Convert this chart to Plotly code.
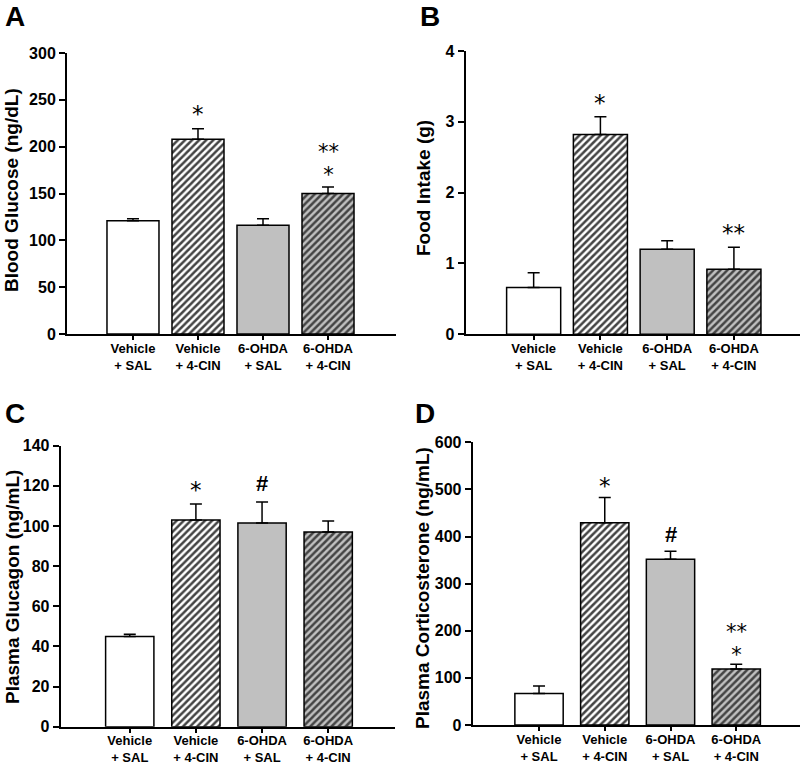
import plotly.graph_objects as go

W, H = 803, 767

categories = ["Vehicle<br>+ SAL", "Vehicle<br>+ 4-CIN", "6-OHDA<br>+ SAL", "6-OHDA<br>+ 4-CIN"]

glucose_mean = [121, 208, 116, 150]
glucose_err = [2, 11, 7, 7]

food_mean = [0.66, 2.82, 1.20, 0.92]
food_err = [0.21, 0.25, 0.12, 0.31]

glucagon_mean = [45, 103, 101.5, 97]
glucagon_err = [1, 8, 10.5, 5.5]

cort_mean = [67, 429, 352, 119]
cort_err = [16, 54, 17, 10]

titles = ["Blood Glucose (ng/dL)", "Food Intake (g)", "Plasma Glucagon (ng/mL)", "Plasma Corticosterone (ng/mL)"]
letters = ["A", "B", "C", "D"]

# significance marks: (category index, y value, lines of text)
marks_A = [(1, 235, ["*"]), (3, 182, ["**", "*"])]
marks_B = [(1, 3.27, ["*"]), (3, 1.43, ["**"])]
marks_C = [(1, 117.8, ["*"]), (2, 121.3, ["#"])]
marks_D = [(1, 508, ["*"]), (2, 405, ["#"]), (3, 174, ["**", "*"])]

fill_colors = ["white", "white", "#c0c0c0", "#c0c0c0"]
patterns = ["", "/", "", "/"]

panels = [
    dict(px=(67, 396), py=(53, 334), yr=[0, 300], dt=50, xr=[-1.015, 4.046], bw=0.8,
         mean=glucose_mean, err=glucose_err, marks=marks_A, title_xy=(11, 190), letter_xy=(15, 17)),
    dict(px=(465.7, 800), py=(51, 334.3), yr=[0, 4], dt=1, xr=[-1.018, 3.99], bw=0.81,
         mean=food_mean, err=food_err, marks=marks_B, title_xy=(424, 188), letter_xy=(430, 17)),
    dict(px=(60.7, 395), py=(445.7, 726.7), yr=[0, 140], dt=20, xr=[-1.044, 4.01], bw=0.73,
         mean=glucagon_mean, err=glucagon_err, marks=marks_C, title_xy=(12, 587), letter_xy=(15, 414)),
    dict(px=(472.7, 800), py=(442.3, 725), yr=[0, 600], dt=100, xr=[-1.009, 3.97], bw=0.735,
         mean=cort_mean, err=cort_err, marks=marks_D, title_xy=(422, 588), letter_xy=(425, 413)),
]

FONT = "Arial, 'Liberation Sans', sans-serif"
STAR_FONT = "'DejaVu Sans', sans-serif"


def fx(px):
    return px / W


def fy(py):
    return 1 - py / H


fig = go.Figure()
annotations = []
for i, p in enumerate(panels):
    sfx = "" if i == 0 else str(i + 1)
    xa, ya = "x" + sfx, "y" + sfx
    fig.add_trace(go.Bar(
        x=categories, y=p["mean"], width=p["bw"],
        xaxis=xa, yaxis=ya,
        marker=dict(color=fill_colors, line=dict(color="black", width=1.5),
                    pattern=dict(shape=patterns, fgcolor="black", fgopacity=1, size=5, solidity=0.5)),
        error_y=dict(type="data", symmetric=False, array=p["err"], arrayminus=[0] * 4,
                     color="black", thickness=1.5, width=6),
        showlegend=False, hoverinfo="skip",
    ))
    xd = [fx(p["px"][0]), fx(p["px"][1])]
    yd = [fy(p["py"][1]), fy(p["py"][0])]
    fig.layout["xaxis" + sfx] = dict(
        domain=xd, anchor=ya, type="category", range=p["xr"],
        showline=True, linecolor="black", linewidth=2,
        ticks="outside", ticklen=4, tickwidth=1.5, tickcolor="black",
        ticklabelstandoff=-3,
        tickfont=dict(family=FONT, size=13, color="black", weight="bold"),
        showgrid=False, zeroline=False, fixedrange=True, automargin=False,
    )
    fig.layout["yaxis" + sfx] = dict(
        domain=yd, anchor=xa, range=p["yr"], dtick=p["dt"], tick0=0,
        showline=True, linecolor="black", linewidth=2,
        ticks="outside", ticklen=6, tickwidth=1.5, tickcolor="black",
        tickfont=dict(family=FONT, size=16, color="black", weight="bold"),
        showgrid=False, zeroline=False, fixedrange=True, automargin=False,
    )
    tx, ty = p["title_xy"]
    annotations.append(dict(text=titles[i], xref="paper", yref="paper", x=fx(tx), y=fy(ty),
                            textangle=-90, showarrow=False, xanchor="center", yanchor="middle",
                            font=dict(family=FONT, size=19, color="black", weight="bold")))
    lx, ly = p["letter_xy"]
    annotations.append(dict(text=letters[i], xref="paper", yref="paper", x=fx(lx), y=fy(ly),
                            showarrow=False, xanchor="center", yanchor="middle",
                            font=dict(family=FONT, size=28, color="black", weight="bold")))
    for (ci, yv, lines) in p["marks"]:
        if lines == ["#"]:
            txt = "#"
            f = dict(family=FONT, size=22, color="black", weight="bold")
        elif len(lines) == 1:
            txt = lines[0]
            f = dict(family=STAR_FONT, size=23, color="black")
        else:
            txt = "<br>".join('<span style="font-size:21px">%s</span>' % s for s in lines)
            f = dict(family=STAR_FONT, size=17.5, color="black")
        annotations.append(dict(text=txt, xref=xa, yref=ya, x=categories[ci], y=yv,
                                showarrow=False, xanchor="center", yanchor="middle", font=f))

fig.update_layout(
    width=W, height=H, margin=dict(l=0, r=0, t=0, b=0, pad=0, autoexpand=False),
    paper_bgcolor="white", plot_bgcolor="white",
    annotations=annotations, bargap=0.2,
)

fig.write_html("out.html", config={"displayModeBar": False},
               post_script="document.body.style.margin='0';")
